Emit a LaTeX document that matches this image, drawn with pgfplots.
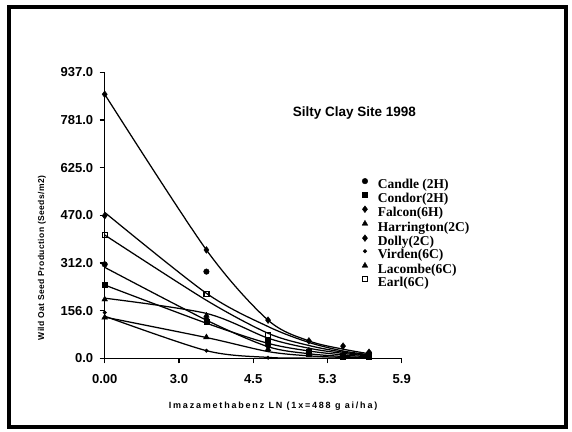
\documentclass[border=0pt]{standalone}
\usepackage{fontspec}
\setmainfont{Liberation Serif}
\setsansfont{Liberation Sans}
\usepackage{pgfplots}
\pgfplotsset{compat=1.18}
\pgfplotsset{
  fit/.style={black, line width=1.25pt, smooth, tension=0.5, no marks, forget plot},
  pts/.style={black, only marks},
}
\begin{document}
\begin{tikzpicture}[x=1pt,y=1pt]
\path[use as bounding box] (0,0) rectangle (572,431);
\draw[line width=3.5pt] (9,4) rectangle (566,424);
\begin{axis}[
  at={(104.7pt,72.7pt)}, anchor=south west,
  scale only axis, width=297pt, height=286pt,
  xmin=0, xmax=4, ymin=0, ymax=937,
  axis lines=left, axis line style={-, line width=1.3pt},
  clip=false,
  xtick={0,1,2,3,4}, xticklabels={0.00,3.0,4.5,5.3,5.9},
  ytick={0,156.1667,312.3333,468.5,624.6667,780.8333,937},
  yticklabels={0.0,156.0,312.0,470.0,625.0,781.0,937.0},
  tick align=outside, major tick length=5pt,
  tick style={line width=1.1pt, black},
  /pgf/number format/assume math mode=true,
  tick label style={font=\sffamily\bfseries\fontsize{13}{13}\selectfont},
  xticklabel style={yshift=-8pt},
  yticklabel style={xshift=-3pt},
  xlabel={\addfontfeatures{LetterSpace=20}Imazamethabenz LN (1x=488 g ai/ha)},
  ylabel={\addfontfeatures{LetterSpace=5}Wild Oat Seed Production (Seeds/m2)},
  xlabel style={font=\sffamily\bfseries\fontsize{9}{9}\selectfont, at={(axis description cs:0.567,-0.166)}, anchor=center},
  ylabel style={font=\sffamily\bfseries\fontsize{8.5}{8.5}\selectfont, at={(axis description cs:-0.211,0.351)}, anchor=center},
  legend style={draw=none, fill=none, at={(axis description cs:0.866,0.630)}, anchor=north west,
    inner sep=0pt, column sep=10pt, row sep=1.1pt,
    font=\rmfamily\bfseries\fontsize{13.5}{14}\selectfont,
    nodes={inner sep=0pt, text height=9.5pt, text depth=2.5pt}},
  legend cell align=left,
  legend image code/.code={\draw[#1] plot coordinates {(0pt,4pt)};},
]
% fitted curves
\addplot[fit] coordinates {(0,865) (1.37,355) (2.2,125) (2.75,57) (3.21,30) (3.56,15)};
\addplot[fit] coordinates {(0,478) (1.37,213) (2.2,104) (2.75,52) (3.21,24) (3.56,12)};
\addplot[fit] coordinates {(0,404) (1.37,190) (2.2,82) (2.75,42) (3.21,20) (3.56,10)};
\addplot[fit] coordinates {(0,298) (1.37,125) (2.2,38) (2.75,15) (3.21,6) (3.56,2)};
\addplot[fit] coordinates {(0,240) (1.37,115) (2.2,49) (2.75,24) (3.21,11) (3.56,5)};
\addplot[fit] coordinates {(0,197) (1.37,147) (2.2,66) (2.75,33) (3.21,16) (3.56,8)};
\addplot[fit] coordinates {(0,135) (1.37,68) (2.2,22) (2.75,8) (3.21,3) (3.56,1)};
\addplot[fit] coordinates {(0,138) (1.37,25) (2.2,3) (2.75,0.5) (3.21,0) (3.56,0)};
% observed values
\addplot[pts, mark=*, mark size=2.8pt] coordinates {(0,308) (1.37,284) (2.2,48) (2.75,15) (3.21,5) (3.56,15)};
\addlegendentry{Candle (2H)}
\addplot[pts, mark=square*, mark size=2.5pt] coordinates {(0,242) (1.37,120) (2.2,60) (2.75,18) (3.21,6) (3.56,4)};
\addlegendentry{Condor(2H)}
\addplot[pts, mark=diamond*, mark size=3.4pt] coordinates {(0,865) (1.37,355) (2.2,125) (2.75,57) (3.21,40) (3.56,20)};
\addlegendentry{Falcon(6H)}
\addplot[pts, mark=triangle*, mark size=3.3pt] coordinates {(0,193) (1.37,140) (2.2,45) (2.75,22) (3.21,12) (3.56,6)};
\addlegendentry{Harrington(2C)}
\addplot[pts, mark=diamond*, mark size=3.4pt] coordinates {(0,467) (1.37,130) (2.2,40) (2.75,25) (3.21,12) (3.56,10)};
\addlegendentry{Dolly(2C)}
\addplot[pts, mark=*, mark size=1.8pt] coordinates {(0,150) (1.37,25) (2.2,2) (2.75,12) (3.21,4) (3.56,2)};
\addlegendentry{Virden(6C)}
\addplot[pts, mark=triangle*, mark size=3.3pt] coordinates {(0,134) (1.37,69) (2.2,30) (2.75,10) (3.21,3) (3.56,5)};
\addlegendentry{Lacombe(6C)}
\addplot[pts, mark=square, mark size=2.5pt, mark options={fill=white, line width=1.2pt}] coordinates {(0,403) (1.37,210) (2.2,76) (2.75,20) (3.21,8) (3.56,12)};
\addlegendentry{Earl(6C)}
\node[font=\sffamily\bfseries\fontsize{13.5}{14}\selectfont] at (rel axis cs:0.841,0.858) {Silty Clay Site 1998};
\end{axis}
\end{tikzpicture}
\end{document}
